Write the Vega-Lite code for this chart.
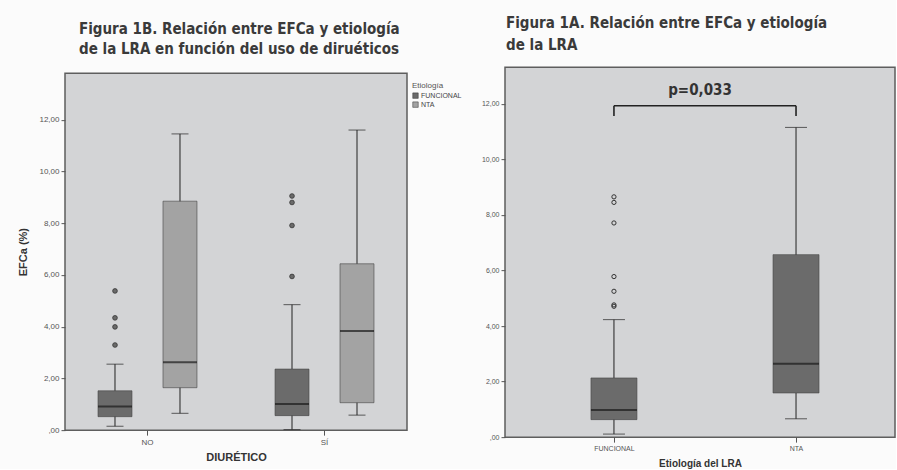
{
  "$schema": "https://vega.github.io/schema/vega-lite/v6.json",
  "background": "#fbfbfb",
  "padding": {"left": 17, "top": 14, "right": 0, "bottom": 0},
  "center": true,
  "spacing": 8,
  "resolve": {"scale": {"color": "independent"}, "legend": {"color": "independent"}},
  "datasets": {
    "boxL": [
      {"diur": "NO", "etio": "FUNCIONAL", "lower": 0.15, "q1": 0.52, "median": 0.91, "q3": 1.52, "upper": 2.55},
      {"diur": "NO", "etio": "NTA", "lower": 0.65, "q1": 1.64, "median": 2.62, "q3": 8.85, "upper": 11.45},
      {"diur": "SÍ", "etio": "FUNCIONAL", "lower": 0.02, "q1": 0.56, "median": 1.01, "q3": 2.36, "upper": 4.85},
      {"diur": "SÍ", "etio": "NTA", "lower": 0.58, "q1": 1.06, "median": 3.83, "q3": 6.43, "upper": 11.6}
    ],
    "outL": [
      {"diur": "NO", "etio": "FUNCIONAL", "value": 3.29},
      {"diur": "NO", "etio": "FUNCIONAL", "value": 3.99},
      {"diur": "NO", "etio": "FUNCIONAL", "value": 4.34},
      {"diur": "NO", "etio": "FUNCIONAL", "value": 5.38},
      {"diur": "SÍ", "etio": "FUNCIONAL", "value": 5.94},
      {"diur": "SÍ", "etio": "FUNCIONAL", "value": 7.91},
      {"diur": "SÍ", "etio": "FUNCIONAL", "value": 8.8},
      {"diur": "SÍ", "etio": "FUNCIONAL", "value": 9.05}
    ],
    "boxR": [
      {"etio": "FUNCIONAL", "lower": 0.11, "q1": 0.63, "median": 0.98, "q3": 2.13, "upper": 4.23},
      {"etio": "NTA", "lower": 0.66, "q1": 1.59, "median": 2.64, "q3": 6.57, "upper": 11.15}
    ],
    "outR": [
      {"etio": "FUNCIONAL", "value": 4.71},
      {"etio": "FUNCIONAL", "value": 4.76},
      {"etio": "FUNCIONAL", "value": 5.25},
      {"etio": "FUNCIONAL", "value": 5.78},
      {"etio": "FUNCIONAL", "value": 7.71},
      {"etio": "FUNCIONAL", "value": 8.45},
      {"etio": "FUNCIONAL", "value": 8.65}
    ],
    "bracket": [
      {"from": "FUNCIONAL", "to": "NTA", "y": 11.93}
    ],
    "bracketLegs": [
      {"etio": "FUNCIONAL", "y": 11.56, "y2": 11.93},
      {"etio": "NTA", "y": 11.56, "y2": 11.93}
    ],
    "pval": [
      {"label": "p=0,033", "pos": 0.5, "y": 12.5}
    ]
  },
  "hconcat": [
    {
      "width": 342,
      "height": 357,
      "title": {
        "text": ["Figura 1B. Relación entre EFCa y etiología", "de la LRA en función del uso de diruéticos"],
        "anchor": "start",
        "frame": "group",
        "dx": 14,
        "offset": 16.5,
        "fontSize": 15,
        "lineHeight": 20,
        "font": "DejaVu Sans Condensed, Roboto",
        "fontWeight": "bold",
        "color": "#3a3a3a"
      },
      "data": {"name": "boxL"},
      "encoding": {
        "x": {
          "field": "diur", "type": "nominal",
          "scale": {"domain": ["NO", "SÍ"], "paddingInner": 0.2, "paddingOuter": 0.066},
          "axis": {"title": "DIURÉTICO", "labelAngle": 0, "labelFontSize": 8, "labelColor": "#555", "tickSize": 5, "tickColor": "#555", "domain": false, "titleFontSize": 11, "titleFontWeight": "bold", "titleColor": "#333", "titlePadding": 5, "labelPadding": 3}
        },
        "xOffset": {
          "field": "etio", "type": "nominal",
          "scale": {"domain": ["FUNCIONAL", "NTA"], "paddingInner": 0.477, "paddingOuter": 0.328}
        }
      },
      "layer": [
        {
          "mark": {"type": "rule", "color": "#222", "strokeWidth": 1},
          "encoding": {
            "y": {"field": "lower", "type": "quantitative", "scale": {"domain": [0, 13.8], "nice": false},
              "axis": {"title": "EFCa (%)", "values": [0, 2, 4, 6, 8, 10, 12], "labelExpr": "datum.value == 0 ? ',00' : replace(format(datum.value, '.2f'), '.', ',')", "labelFontSize": 8, "labelColor": "#555", "tickSize": 4, "tickColor": "#555", "grid": false, "domain": false, "titleFontSize": 11, "titleFontWeight": "bold", "titleColor": "#333", "titlePadding": 10}},
            "y2": {"field": "upper"}
          }
        },
        {
          "mark": {"type": "bar", "stroke": "#444", "strokeWidth": 0.6},
          "encoding": {
            "y": {"field": "q1", "type": "quantitative"},
            "y2": {"field": "q3"},
            "color": {
              "field": "etio", "type": "nominal",
              "scale": {"domain": ["FUNCIONAL", "NTA"], "range": ["#6b6b6b", "#a3a3a3"]},
              "legend": {"title": "Etiología", "orient": "right", "offset": -4, "padding": 9, "titleFontSize": 8, "titleFontWeight": "normal", "titleColor": "#555", "labelFontSize": 7, "labelColor": "#444", "symbolType": "square", "symbolSize": 30, "symbolStrokeColor": "#333", "symbolStrokeWidth": 0.5, "rowPadding": 0, "titlePadding": 2, "labelOffset": 2}
            }
          }
        },
        {
          "mark": {"type": "tick", "color": "#1a1a1a", "thickness": 2, "size": 34},
          "encoding": {"y": {"field": "median", "type": "quantitative"}}
        },
        {
          "mark": {"type": "tick", "color": "#222", "thickness": 1, "size": 17},
          "encoding": {"y": {"field": "lower", "type": "quantitative"}}
        },
        {
          "mark": {"type": "tick", "color": "#222", "thickness": 1, "size": 17},
          "encoding": {"y": {"field": "upper", "type": "quantitative"}}
        },
        {
          "data": {"name": "outL"},
          "mark": {"type": "point", "filled": true, "color": "#6a6a6a", "stroke": "#333", "strokeWidth": 0.8, "size": 22, "opacity": 1},
          "encoding": {"y": {"field": "value", "type": "quantitative"}}
        }
      ]
    },
    {
      "width": 390,
      "height": 370,
      "title": {
        "text": ["Figura 1A. Relación entre EFCa y etiología", "de la LRA"],
        "anchor": "start",
        "frame": "group",
        "dx": 1,
        "offset": 14.5,
        "fontSize": 15,
        "lineHeight": 22,
        "font": "DejaVu Sans Condensed, Roboto",
        "fontWeight": "bold",
        "color": "#3a3a3a"
      },
      "resolve": {"scale": {"x": "independent"}},
      "layer": [
        {
          "data": {"name": "boxR"},
          "encoding": {
            "x": {
              "field": "etio", "type": "nominal",
              "scale": {"type": "point", "domain": ["FUNCIONAL", "NTA"], "padding": 0.571, "align": 0.524},
              "axis": {"title": "Etiología del LRA", "labelAngle": 0, "labelFontSize": 7, "labelColor": "#555", "tickSize": 5, "tickColor": "#555", "domain": false, "titleFontSize": 10, "titleFontWeight": "bold", "titleColor": "#333", "titlePadding": 7, "labelPadding": 2}
            }
          },
          "layer": [
            {
              "mark": {"type": "rule", "color": "#222", "strokeWidth": 1},
              "encoding": {
                "y": {"field": "lower", "type": "quantitative", "scale": {"domain": [0, 13.32], "nice": false},
                  "axis": {"title": null, "values": [0, 2, 4, 6, 8, 10, 12], "labelExpr": "datum.value == 0 ? ',00' : replace(format(datum.value, '.2f'), '.', ',')", "labelFontSize": 7, "labelColor": "#555", "tickSize": 4, "tickColor": "#555", "grid": false, "domain": false}},
                "y2": {"field": "upper"}
              }
            },
            {
              "mark": {"type": "bar", "color": "#6b6b6b", "stroke": "#444", "strokeWidth": 0.6, "width": 46},
              "encoding": {
                "y": {"field": "q1", "type": "quantitative"},
                "y2": {"field": "q3"}
              }
            },
            {
              "mark": {"type": "tick", "color": "#1a1a1a", "thickness": 2, "size": 46},
              "encoding": {"y": {"field": "median", "type": "quantitative"}}
            },
            {
              "mark": {"type": "tick", "color": "#222", "thickness": 1, "size": 22},
              "encoding": {"y": {"field": "lower", "type": "quantitative"}}
            },
            {
              "mark": {"type": "tick", "color": "#222", "thickness": 1, "size": 22},
              "encoding": {"y": {"field": "upper", "type": "quantitative"}}
            },
            {
              "data": {"name": "outR"},
              "mark": {"type": "point", "filled": false, "color": "#333", "strokeWidth": 1, "size": 18, "opacity": 1},
              "encoding": {"y": {"field": "value", "type": "quantitative"}}
            },
            {
              "data": {"name": "bracket"},
              "mark": {"type": "rule", "color": "#222", "strokeWidth": 1.6},
              "encoding": {
                "x": {"field": "from", "type": "nominal"},
                "x2": {"field": "to"},
                "y": {"field": "y", "type": "quantitative"}
              }
            },
            {
              "data": {"name": "bracketLegs"},
              "mark": {"type": "rule", "color": "#222", "strokeWidth": 1.6},
              "encoding": {
                "y": {"field": "y", "type": "quantitative"},
                "y2": {"field": "y2"}
              }
            }
          ]
        },
        {
          "data": {"name": "pval"},
          "mark": {"type": "text", "fontSize": 15, "fontWeight": "bold", "font": "DejaVu Sans Condensed, Roboto", "color": "#333", "baseline": "middle", "align": "center"},
          "encoding": {
            "x": {"field": "pos", "type": "quantitative", "scale": {"domain": [0, 1]}, "axis": null},
            "y": {"field": "y", "type": "quantitative"},
            "text": {"field": "label"}
          }
        }
      ]
    }
  ],
  "config": {
    "view": {"fill": "#d3d4d6", "stroke": "#5e5e5e", "strokeWidth": 1.5},
    "font": "Liberation Sans, Arial, sans-serif"
  }
}
